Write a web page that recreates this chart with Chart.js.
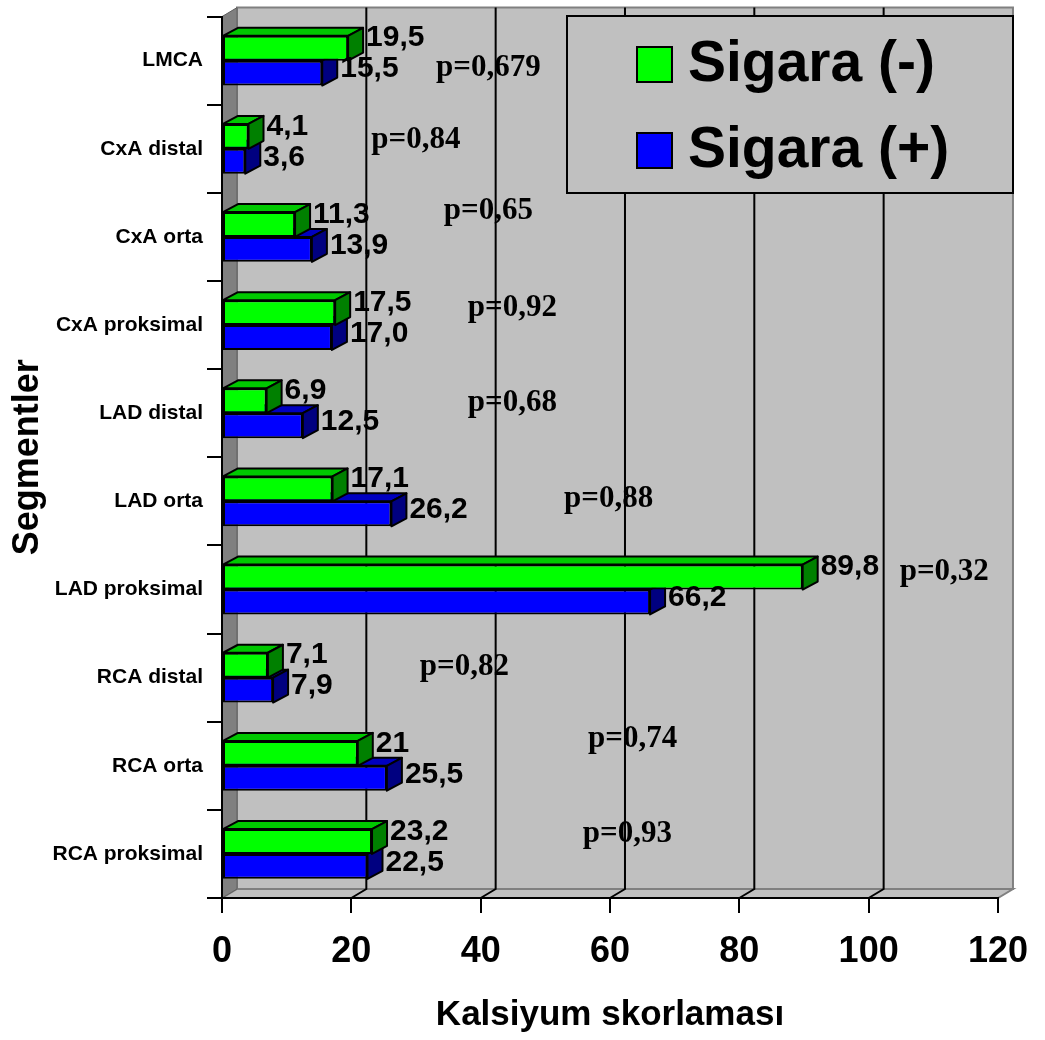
<!DOCTYPE html>
<html>
<head>
<meta charset="utf-8">
<title>Kalsiyum skorlaması</title>
<script src="https://cdn.jsdelivr.net/npm/chart.js@4.4.1/dist/chart.umd.min.js"></script>
<style>
  html, body { margin: 0; padding: 0; background: #ffffff; }
  #wrap { width: 1045px; height: 1040px; }
</style>
</head>
<body>
<div id="wrap"><canvas id="chart" width="1045" height="1040"></canvas></div>
<script>
// Coronary segments, top to bottom
const segments = ['LMCA', 'CxA distal', 'CxA orta', 'CxA proksimal', 'LAD distal',
                  'LAD orta', 'LAD proksimal', 'RCA distal', 'RCA orta', 'RCA proksimal'];

// Mean calcium score per segment, as printed beside each bar
const nonSmokerText = ['19,5', '4,1', '11,3', '17,5', '6,9', '17,1', '89,8', '7,1', '21', '23,2'];
const smokerText    = ['15,5', '3,6', '13,9', '17,0', '12,5', '26,2', '66,2', '7,9', '25,5', '22,5'];

// Significance of the difference for each segment
const pValues = ['p=0,679', 'p=0,84', 'p=0,65', 'p=0,92', 'p=0,68',
                 'p=0,88', 'p=0,32', 'p=0,82', 'p=0,74', 'p=0,93'];
// Where each p value sits: x in score units, y in segment index units
const pAnchorX = [33.1, 23.1, 34.3, 38.0, 38.0, 52.9, 104.8, 30.6, 56.6, 55.8];
const pAnchorY = [0.08, 0.90, 1.71, 2.81, 3.88, 4.97, 5.80, 6.88, 7.70, 8.77];

// Score axis ticks
const scoreTicks = [0, 20, 40, 60, 80, 100, 120];

const toNumber = s => parseFloat(s.replace(',', '.'));
const nonSmoker = nonSmokerText.map(toNumber);
const smoker = smokerText.map(toNumber);

const SANS = '"Liberation Sans", Arial, Helvetica, sans-serif';
const SERIF = '"Liberation Serif", "Times New Roman", Times, serif';

// Perspective offsets of the box-shaped plot
const WALL_DX = 15, WALL_DY = 9;
const BAR_DX = 15, BAR_DY = 8;

function poly(ctx, pts, fill, stroke, lw) {
  ctx.beginPath();
  ctx.moveTo(pts[0][0], pts[0][1]);
  for (let i = 1; i < pts.length; i++) ctx.lineTo(pts[i][0], pts[i][1]);
  ctx.closePath();
  if (fill) { ctx.fillStyle = fill; ctx.fill(); }
  if (stroke) { ctx.strokeStyle = stroke; ctx.lineWidth = lw || 1; ctx.stroke(); }
}

const boxPlot = {
  id: 'boxPlot',
  beforeDraw(chart) {
    const ctx = chart.ctx;
    const {left, right, top, bottom} = chart.chartArea;
    const xs = chart.scales.x;
    ctx.save();
    ctx.fillStyle = '#ffffff';
    ctx.fillRect(0, 0, chart.width, chart.height);
    ctx.lineJoin = 'miter';
    // back wall
    poly(ctx, [[left + WALL_DX, top - WALL_DY], [right + WALL_DX, top - WALL_DY],
               [right + WALL_DX, bottom - WALL_DY], [left + WALL_DX, bottom - WALL_DY]],
         '#c0c0c0', '#808080', 2);
    // floor
    poly(ctx, [[left, bottom], [left + WALL_DX, bottom - WALL_DY],
               [right + WALL_DX, bottom - WALL_DY], [right, bottom]],
         '#c0c0c0', '#808080', 2);
    // left wall
    poly(ctx, [[left, top], [left + WALL_DX, top - WALL_DY],
               [left + WALL_DX, bottom - WALL_DY], [left, bottom]],
         '#808080', '#606060', 1);
    // gridlines on the back wall, folding down across the floor
    ctx.strokeStyle = '#000000';
    ctx.lineWidth = 2;
    scoreTicks.slice(1, -1).forEach(v => {
      const px = xs.getPixelForValue(v);
      ctx.beginPath();
      ctx.moveTo(px + WALL_DX, top - WALL_DY);
      ctx.lineTo(px + WALL_DX, bottom - WALL_DY);
      ctx.lineTo(px, bottom);
      ctx.stroke();
    });
    ctx.restore();
  },
  beforeDatasetDraw(chart, args) {
    const ctx = chart.ctx;
    const ds = chart.data.datasets[args.index];
    ctx.save();
    ctx.lineJoin = 'round';
    args.meta.data.forEach(el => {
      const t = el.y - el.height / 2, b = el.y + el.height / 2;
      const x0 = el.base, x1 = el.x;
      poly(ctx, [[x0, t], [x0 + BAR_DX, t - BAR_DY], [x1 + BAR_DX, t - BAR_DY], [x1, t]],
           ds.topColor, '#000000', 2);
      poly(ctx, [[x1, t], [x1 + BAR_DX, t - BAR_DY], [x1 + BAR_DX, b - BAR_DY], [x1, b]],
           ds.sideColor, '#000000', 2);
    });
    ctx.restore();
  },
  afterDatasetsDraw(chart) {
    const ctx = chart.ctx;
    const xs = chart.scales.x, ys = chart.scales.y;
    ctx.save();
    // value labels at the outer end of each bar
    ctx.fillStyle = '#000000';
    ctx.textAlign = 'left';
    ctx.textBaseline = 'middle';
    ctx.font = 'bold 30px ' + SANS;
    chart.data.datasets.forEach((ds, di) => {
      chart.getDatasetMeta(di).data.forEach((el, i) => {
        ctx.fillText(ds.valueText[i], el.x + BAR_DX + 3, el.y + ds.labelShift);
      });
    });
    // p values
    ctx.font = 'bold 31px ' + SERIF;
    pValues.forEach((txt, i) => {
      ctx.fillText(txt, xs.getPixelForValue(pAnchorX[i]), ys.getPixelForValue(pAnchorY[i]));
    });
    // legend
    const lg = {x: 567, y: 16, w: 446, h: 177};
    ctx.fillStyle = '#c0c0c0';
    ctx.fillRect(lg.x, lg.y, lg.w, lg.h);
    ctx.strokeStyle = '#000000';
    ctx.lineWidth = 2;
    ctx.strokeRect(lg.x, lg.y, lg.w, lg.h);
    ctx.font = 'bold 57px ' + SANS;
    chart.data.datasets.forEach((ds, di) => {
      const cy = 64 + di * 86;
      ctx.fillStyle = ds.backgroundColor;
      ctx.fillRect(637, cy - 17, 35, 35);
      ctx.lineWidth = 2;
      ctx.strokeRect(637, cy - 17, 35, 35);
      ctx.fillStyle = '#000000';
      ctx.fillText(ds.label, 688, cy + 1);
    });
    ctx.restore();
  }
};

Chart.defaults.font.family = SANS;
Chart.defaults.color = '#000000';

new Chart(document.getElementById('chart'), {
  type: 'bar',
  data: {
    labels: segments,
    datasets: [
      {
        label: 'Sigara (-)', data: nonSmoker, valueText: nonSmokerText,
        backgroundColor: '#00ff00', topColor: '#00c800', sideColor: '#008000',
        borderColor: '#000000', borderWidth: 2, borderSkipped: false, labelShift: -10
      },
      {
        label: 'Sigara (+)', data: smoker, valueText: smokerText,
        backgroundColor: '#0000ff', topColor: '#0000c0', sideColor: '#000080',
        borderColor: '#000000', borderWidth: 2, borderSkipped: false, labelShift: -4
      }
    ]
  },
  options: {
    indexAxis: 'y',
    responsive: false,
    animation: false,
    layout: { padding: { left: 0, right: 43, top: 13, bottom: 0 } },
    datasets: { bar: { categoryPercentage: 0.565, barPercentage: 1.0 } },
    plugins: { legend: { display: false }, tooltip: { enabled: false } },
    scales: {
      x: {
        min: 0, max: 120,
        afterBuildTicks: s => { s.ticks = scoreTicks.map(v => ({ value: v })); },
        ticks: { font: { size: 36, weight: 'bold' }, color: '#000000', padding: 17 },
        grid: { drawOnChartArea: false, color: '#000000', lineWidth: 2, tickLength: 15 },
        border: { color: '#000000', width: 2 },
        title: {
          display: true, text: 'Kalsiyum skorlaması', color: '#000000',
          font: { size: 35, weight: 'bold' }, padding: { top: 0, bottom: 4 }
        },
        afterFit: s => { s.height = 142; }
      },
      y: {
        ticks: { font: { size: 21, weight: 'bold' }, color: '#000000', padding: 4 },
        grid: { drawOnChartArea: false, color: '#000000', lineWidth: 2, tickLength: 15 },
        border: { color: '#000000', width: 2 },
        title: {
          display: true, text: 'Segmentler', color: '#000000',
          font: { size: 36, weight: 'bold' }, padding: { top: 6, bottom: 4 }
        },
        afterFit: s => { s.width = 222; }
      }
    }
  },
  plugins: [boxPlot]
});
</script>
</body>
</html>
